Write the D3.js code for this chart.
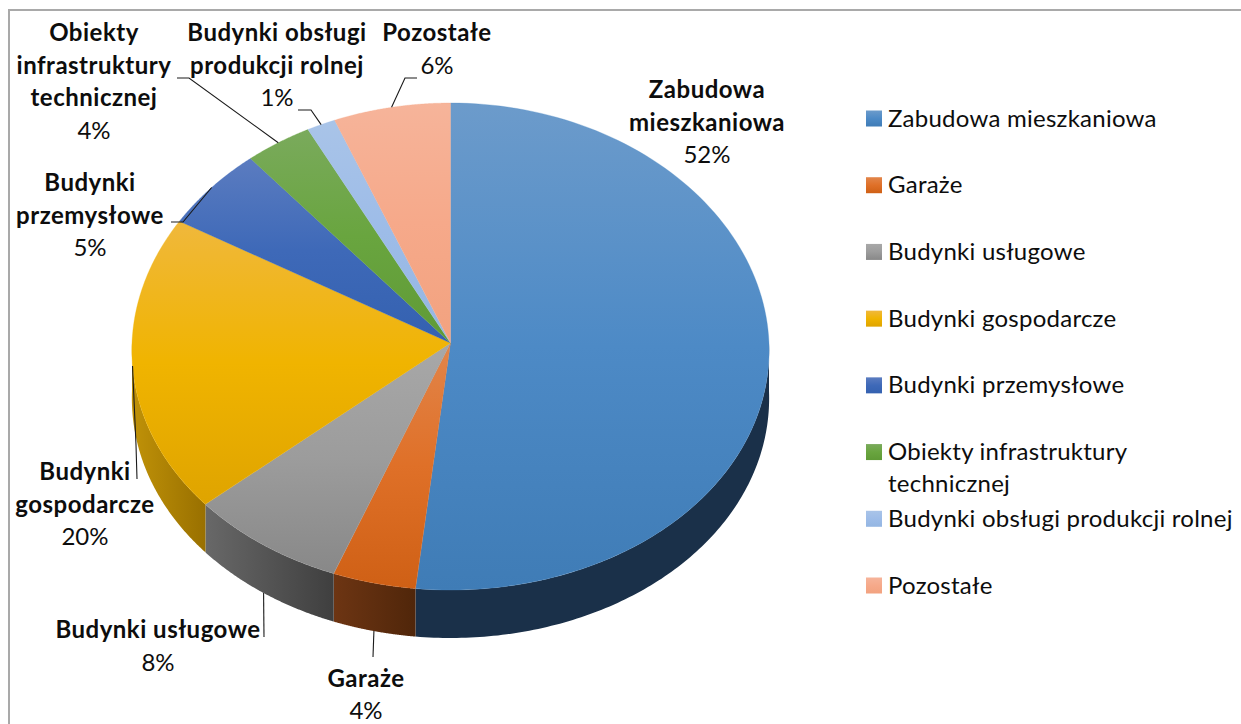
<!DOCTYPE html>
<html>
<head>
<meta charset="utf-8">
<script src="https://cdn.jsdelivr.net/npm/d3@7"></script>
<style>
  html, body { margin: 0; padding: 0; background: #fff; }
  text { font-family: Lato, "Open Sans", sans-serif; fill: #0d0d0d; }
</style>
</head>
<body>
<div id="main"></div>
<script>
const categories = ['Zabudowa mieszkaniowa', 'Garaże', 'Budynki usługowe', 'Budynki gospodarcze',
  'Budynki przemysłowe', 'Obiekty infrastruktury technicznej', 'Budynki obsługi produkcji rolnej', 'Pozostałe'];
const shares = [51.7, 4.1, 7.8, 19.8, 5.5, 3.5, 1.5, 6.1];
const percentLabels = ['52%', '4%', '8%', '20%', '5%', '4%', '1%', '6%'];

const topLight = ['#6c9bcb', '#e2854a', '#a8a8a8', '#f0b83c', '#5b7cc0', '#7aaa5c', '#a9c4e8', '#f6b49a'];
const topMid = ['#4d8ac6', '#df7028', '#9c9c9c', '#f0b400', '#3e69b8', '#69a53f', '#9dbce8', '#f6a98a'];
const topDark = ['#3f7cb6', '#cf6015', '#888888', '#dfa400', '#3461b0', '#5f9a36', '#94b6e2', '#f2a27f'];
const sideLight = ['#1a3049', '#6d3513', '#686868', '#c09208'];
const sideDark = ['#1a3049', '#50260a', '#3f3f3f', '#997000'];

// label blocks: lines in bold, first baseline, centre x
const labelBlocks = [
  { lines: ['Zabudowa', 'mieszkaniowa'], x: 707, y: 98 },
  { lines: ['Garaże'], x: 366, y: 686.5 },
  { lines: ['Budynki usługowe'], x: 158, y: 638 },
  { lines: ['Budynki', 'gospodarcze'], x: 85, y: 480 },
  { lines: ['Budynki', 'przemysłowe'], x: 90, y: 191 },
  { lines: ['Obiekty', 'infrastruktury', 'technicznej'], x: 94, y: 41 },
  { lines: ['Budynki obsługi', 'produkcji rolnej'], x: 277, y: 41 },
  { lines: ['Pozostałe'], x: 437, y: 41 }
];
// leader lines, start points on the label side, the pie end comes from the slice angle
const leaders = [
  null,
  { pts: [[373, 657]], side: true },
  { pts: [[264, 637]], side: true },
  { pts: [[137, 479], [136, 445]], side: false },
  { pts: [[171, 222], [183, 222]], side: false },
  { pts: [[177, 78], [189, 78]], side: false },
  { pts: [[298, 110], [311, 110]], side: false },
  { pts: [[417, 78], [405, 78]], side: false }
];

const width = 1241, height = 724;
// apex of the pie, half axes and slight perspective of the tilted disc
const cx = 450.5, cy = 343, rx = 318.5, ry = 243.45, depth = 48;
const perspX = 0.03, perspY = 0.0144;

const svg = d3.select('#main').append('svg')
  .attr('width', width).attr('height', height)
  .style('display', 'block');

svg.append('path')
  .attr('d', `M${width},10H9V${height}`)
  .attr('fill', 'none').attr('stroke', '#a9a9a9').attr('stroke-width', 2);

const defs = svg.append('defs');
function gradient(id, stops, horizontal) {
  const g = defs.append('linearGradient').attr('id', id)
    .attr('x1', 0).attr('y1', 0)
    .attr('x2', horizontal ? 1 : 0).attr('y2', horizontal ? 0 : 1);
  stops.forEach((c, k) => {
    g.append('stop').attr('offset', k / (stops.length - 1)).attr('stop-color', c);
  });
}
categories.forEach((c, i) => gradient('top' + i, [topLight[i], topMid[i], topDark[i]], false));
sideLight.forEach((c, i) => gradient('side' + i, [sideLight[i], sideDark[i]], true));

const pie = d3.pie().sort(null).value(d => d);
const arcs = pie(shares);

// angle from 12 o'clock, clockwise, to a point on the rim
function rim(a) {
  const u = Math.sin(a), v = -Math.cos(a);
  return [cx + rx * u / (1 - perspX * v), cy + ry * v / (1 - perspY * v)];
}
function sweep(a0, a1) {
  return d3.range(0, 121).map(k => rim(a0 + (a1 - a0) * k / 120));
}

const line = d3.line();

// side wall, only where the slice faces the front
const wall = svg.append('g');
arcs.forEach((d, i) => {
  const a0 = Math.max(d.startAngle, Math.PI / 2);
  const a1 = Math.min(d.endAngle, Math.PI * 1.5);
  if (a1 <= a0) return;
  const upper = sweep(a0, a1);
  const lower = upper.slice().reverse().map(p => [p[0], p[1] + depth]);
  wall.append('path')
    .attr('d', line(upper.concat(lower)) + 'Z')
    .attr('fill', `url(#side${i})`);
});

svg.append('g')
  .selectAll('path')
  .data(arcs)
  .enter()
  .append('path')
  .attr('d', d => line([[cx, cy]].concat(sweep(d.startAngle, d.endAngle))) + 'Z')
  .attr('fill', (d, i) => `url(#top${i})`)
  .attr('stroke', (d, i) => topMid[i])
  .attr('stroke-width', 0.3);

// leader lines
leaders.forEach((l, i) => {
  if (!l) return;
  const end = rim((arcs[i].startAngle + arcs[i].endAngle) / 2);
  if (l.side) end[1] += depth;
  svg.append('path')
    .attr('d', line(l.pts.concat([end])))
    .attr('fill', 'none')
    .attr('stroke', '#1a1a1a')
    .attr('stroke-width', 1.1);
});

// data labels
const labelSize = 24, labelPitch = 32.6;
labelBlocks.forEach((b, i) => {
  const t = svg.append('text').attr('text-anchor', 'middle').style('font-size', labelSize + 'px');
  b.lines.forEach((line, k) => {
    t.append('tspan').attr('x', b.x).attr('y', b.y + k * labelPitch)
      .style('font-weight', 700).style('letter-spacing', '0.5px').text(line);
  });
  t.append('tspan').attr('x', b.x).attr('y', b.y + b.lines.length * labelPitch).text(percentLabels[i]);
});

// legend
const legendY = d3.scalePoint().domain(categories).range([118.5, 585.5]);
const legend = svg.append('g').selectAll('g')
  .data(categories)
  .enter()
  .append('g')
  .attr('transform', d => `translate(866,${legendY(d)})`);
legend.append('rect')
  .attr('y', -8).attr('width', 16).attr('height', 16)
  .attr('fill', (d, i) => `url(#top${i})`);
legend.append('text')
  .attr('x', 22).attr('y', 8)
  .style('font-size', '24px')
  .style('letter-spacing', '0.25px')
  .each(function (d) {
    const el = d3.select(this);
    if (d === 'Obiekty infrastruktury technicznej') {
      el.append('tspan').attr('x', 22).attr('y', 8).text('Obiekty infrastruktury');
      el.append('tspan').attr('x', 22).attr('y', 40).text('technicznej');
    } else {
      el.text(d);
    }
  });
</script>
</body>
</html>
